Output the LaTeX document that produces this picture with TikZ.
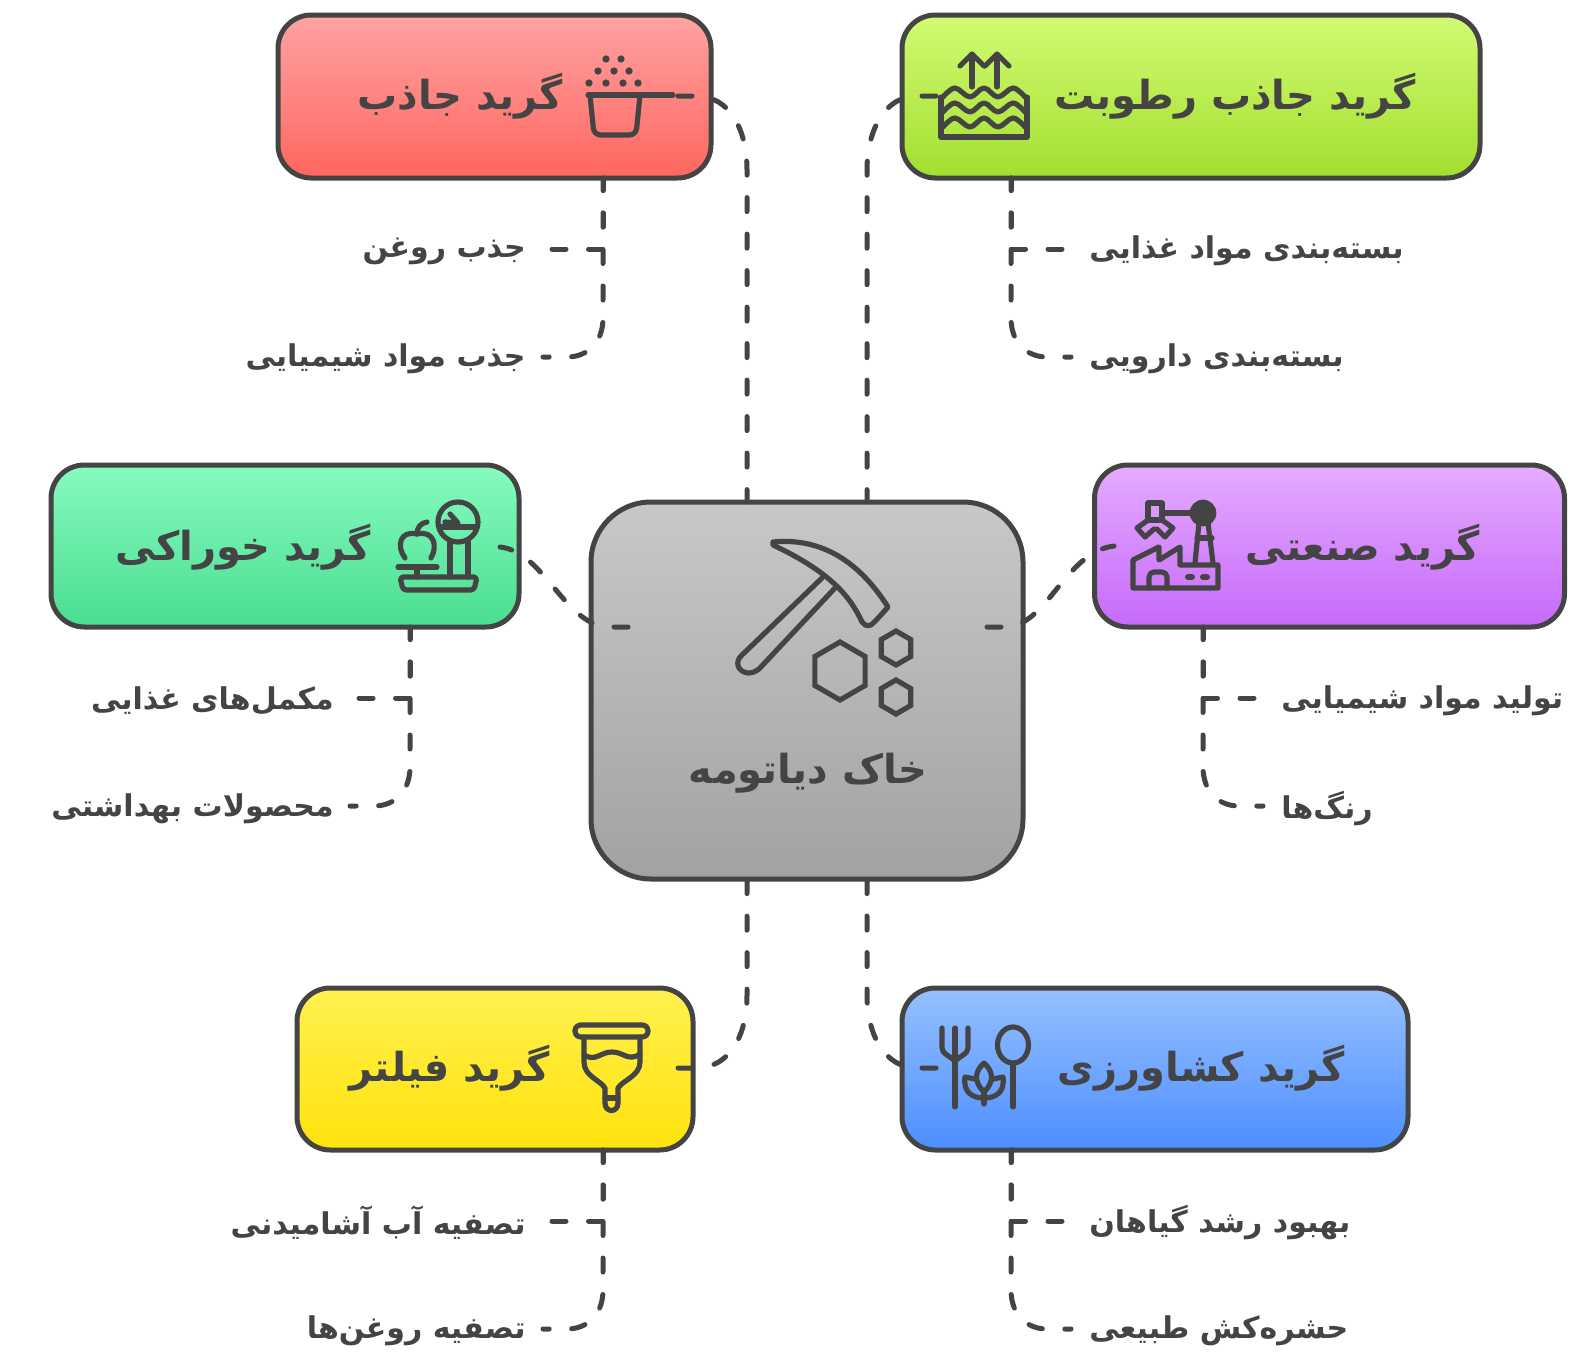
\documentclass[tikz,border=0pt]{standalone}
\usepackage{fontspec}
\usepackage{tikz}
\usetikzlibrary{shapes.geometric}
\newfontfamily\farsifont[Script=Arabic]{DejaVu Sans}
\TeXXeTstate=1
\newcommand{\fa}[1]{\farsifont\bfseries\beginR #1\endR}
\definecolor{inkc}{HTML}{444444}
\definecolor{redtop}{HTML}{FFA3A3}\definecolor{redbot}{HTML}{FF665F}
\definecolor{limetop}{HTML}{D2FB74}\definecolor{limebot}{HTML}{A3DE2E}
\definecolor{purpletop}{HTML}{E6ABFF}\definecolor{purplebot}{HTML}{C56AFA}
\definecolor{minttop}{HTML}{86FBC0}\definecolor{mintbot}{HTML}{4ADD90}
\definecolor{yellowtop}{HTML}{FFF14F}\definecolor{yellowbot}{HTML}{FFE20C}
\definecolor{bluetop}{HTML}{96C0FF}\definecolor{bluebot}{HTML}{4C8EFF}
\definecolor{greytop}{HTML}{C8C8C8}\definecolor{greybot}{HTML}{A2A2A2}
\tikzset{
  gradebox/.style={rectangle, draw=inkc, line width=3pt, rounded corners=20pt, inner sep=0pt},
  title/.style={text=inkc, font=\fontsize{24}{28}\selectfont},
  item/.style={text=inkc, font=\fontsize{18}{22}\selectfont},
  mainlink/.style={draw=inkc, line width=3pt, line cap=round, dash pattern=on 8.4pt off 13.5pt},
  branch/.style={mainlink, dash phase=.9pt},
  iconline/.style={draw=inkc, line width=3.1pt, line cap=round, line join=round},
  hexstone/.style={regular polygon, regular polygon sides=6, shape border rotate=30, draw=inkc, line width=3.1pt, inner sep=0pt},
}

\begin{document}
\begin{tikzpicture}[x=.6pt,y=-.6pt]
  \useasboundingbox (0,0) rectangle (1585,1369);
  \foreach \nm/\cx/\cy/\bw/\bh in {
    red/494.5/96.5/433/163,
    lime/1191/96.5/578/163,
    mint/285/546/468/162,
    purple/1329.5/546/470/162,
    yellow/495/1069/396/162,
    blue/1155/1069/506/162%
  } {
    \node[gradebox, top color=\nm top, bottom color=\nm bot, minimum width=\bw*.6pt, minimum height=\bh*.6pt] (\nm box) at (\cx,\cy) {};
  }
  \node[gradebox, rounded corners=36pt, top color=greytop, bottom color=greybot, minimum width=259.2pt, minimum height=226.2pt] (greybox) at (807,690.5) {};

  % titles
  \node[title] (redtitle) at (460,96) {\fa{گرید جاذب}};
  \node[title] (limetitle) at (1235,96) {\fa{گرید جاذب رطوبت}};
  \node[title] (minttitle) at (243,547) {\fa{گرید خوراکی}};
  \node[title] (purpletitle) at (1363,547) {\fa{گرید صنعتی}};
  \node[title] (yellowtitle) at (450,1068) {\fa{گرید فیلتر}};
  \node[title] (bluetitle) at (1201,1068) {\fa{گرید کشاورزی}};
  \node[title] (greytitle) at (808,773) {\fa{خاک دیاتومه}};

  % items
  \foreach \nm/\x/\y/\anc/\lab in {
    redone/526/251/east/جذب روغن,
    redtwo/526/359/east/جذب مواد شیمیایی,
    limeone/1089/251/west/بسته‌بندی مواد غذایی,
    limetwo/1089/359/west/بسته‌بندی دارویی,
    mintone/334/701/east/مکمل‌های غذایی,
    minttwo/334/809/east/محصولات بهداشتی,
    purpleone/1281/701/west/تولید مواد شیمیایی,
    purpletwo/1281/809/west/رنگ‌ها,
    yellowone/526/1223/east/تصفیه آب آشامیدنی,
    yellowtwo/526/1331/east/تصفیه روغن‌ها,
    blueone/1089/1223/west/بهبود رشد گیاهان,
    bluetwo/1089/1331/west/حشره‌کش طبیعی%
  } {
    \node[item, anchor=\anc, inner sep=0pt] (\nm) at (\x,\y) {\fa{\lab}};
  }

  % ends of the links
  \coordinate (redfoot) at (603,178);
  \coordinate (limefoot) at (1011,178);
  \coordinate (mintfoot) at (410,627);
  \coordinate (purplefoot) at (1203,627);
  \coordinate (yellowfoot) at (603,1150);
  \coordinate (bluefoot) at (1011,1150);
  \coordinate (redend) at (678,96);
  \coordinate (limeend) at (936,96);
  \coordinate (mintend) at (500,547);
  \coordinate (purpleend) at (1114,546);
  \coordinate (yellowend) at (678,1068);
  \coordinate (blueend) at (936,1068);
  \coordinate (greytl) at (747,502);
  \coordinate (greytr) at (867,502);
  \coordinate (greybl) at (747,879);
  \coordinate (greybr) at (867,879);
  \coordinate (greyl) at (628,627);
  \coordinate (greyr) at (987,627);

  \draw[mainlink] (redend) -- ++(18,0) .. controls +(34,0) and (747,130) .. (747,170) -- (greytl);
  \draw[mainlink] (limeend) -- ++(-19,0) .. controls +(-32,0) and (867,130) .. (867,170) -- (greytr);
  \draw[mainlink] (yellowend) -- ++(18,0) .. controls +(34,0) and (747,1035) .. (747,995) -- (greybl);
  \draw[mainlink] (blueend) -- ++(-19,0) .. controls +(-32,0) and (867,1035) .. (867,995) -- (greybr);
  \draw[mainlink] (greyl) -- ++(-18,0) .. controls +(-45,0) and (545,552) .. (mintend);
  \draw[mainlink] (greyr) -- ++(18,0) .. controls +(42,0) and (1065,552) .. (purpleend);

  \foreach \nm/\s in {red/-1, lime/1, mint/-1, purple/1, yellow/-1, blue/1} {
    \draw[branch] (\nm foot) -- ++(0,71) -- ++(\s*52,0);
    \draw[branch] (\nm foot) -- ++(0,140) .. controls +(0,25) and +(-20*\s,0) .. ++(\s*36,39) -- ++(\s*24,0);
  }

  % pot
  \foreach \x/\y in {606/59, 621/59, 598/71, 614/71, 629/71, 589/83, 606/83, 623/83, 638/83} {
    \fill[inkc] (\x,\y) circle (2.2pt);
  }
  \draw[iconline] (588,95) -- (673,95);
  \draw[iconline, rounded corners=4pt] (590,95) -- (594,135) -- (636,135) -- (640,95);

  % water
  \foreach \ux in {972, 997} {
    \draw[iconline] (\ux,87) -- (\ux,55);
    \draw[iconline] (\ux-12,66) -- (\ux,54) -- (\ux+12,66);
  }
  \draw[iconline] (941,97) -- (941,137) -- (1027,137) -- (1027,97);
  \foreach \dy in {0, 15, 30} {
    \draw[iconline, yshift=-\dy*.6pt] plot[smooth, tension=.6] coordinates {(943,97) (955,88) (970,97) (984,88) (998,97) (1013,88) (1025,97)};
  }

  % factory
  \fill[inkc] (1203,513) circle (8pt);
  \draw[iconline] (1163,513) -- (1193,513);
  \draw[iconline] (1148,520) -- (1148,503) -- (1162,503) -- (1162,520);
  \draw[iconline] (1148,520) -- (1137,528) -- (1145,537) -- (1154,529);
  \draw[iconline] (1162,520) -- (1173,528) -- (1165,537) -- (1157,529);
  \draw[iconline] (1148,520) -- (1162,520);
  \draw[iconline] (1195,563) -- (1199,523);
  \draw[iconline] (1213,563) -- (1208,523);
  \draw[iconline] (1197,538) -- (1212,538);
  \draw[iconline] (1133,588) -- (1133,560) -- (1159,547) -- (1159,560) -- (1180,547) -- (1180,565) -- (1218,565) -- (1218,588) -- cycle;
  \draw[iconline, rounded corners=3pt] (1149,588) -- (1149,572) -- (1167,572) -- (1167,588);
  \draw[iconline, line width=3.6pt] (1188,577) -- (1192,577);
  \draw[iconline, line width=3.6pt] (1203,577) -- (1207,577);

  % scale and apple
  \draw[iconline] (458,522) circle (12pt);
  \draw[iconline] (440,527) -- (477,527);
  \draw[iconline] (450,514) -- (458,523) -- (445,522);
  \draw[iconline] (450,542) -- (450,577);
  \draw[iconline] (468,542) -- (468,577);
  \draw[iconline, rounded corners=2pt] (400,577) -- (477,577) -- (474,590) -- (403,590) -- cycle;
  \draw[iconline] (398,567) -- (437,567);
  \draw[iconline] (417,567) -- (417,577);
  \draw[iconline] (405,558) .. controls (396,546) and (400,530) .. (417,534) .. controls (434,530) and (438,546) .. (431,558);
  \draw[iconline] (417,534) .. controls (417,527) and (421,523) .. (427,522);

  % pick and stones
  \draw[iconline] (773,542) .. controls (815,538) and (855,555) .. (888,607) .. controls (888,607) and (875,622) .. (871,625) .. controls (866,627) and (864,624) .. (862,622) .. controls (850,596) and (830,572) .. (773,545) -- cycle;
  \draw[iconline] (822,578) -- (742,655) .. controls (734,662) and (738,672) .. (748,673) .. controls (752,673) and (755,672) .. (759,669) -- (835,588);
  \node[hexstone, minimum size=34.8pt] (stonebig) at (840,671) {};
  \node[hexstone, minimum size=20.4pt] (stoneup) at (896,648) {};
  \node[hexstone, minimum size=20.4pt] (stonedown) at (896,697) {};

  % cup
  \draw[iconline, rounded corners=3.5pt] (575,1025) rectangle (648,1037);
  \draw[iconline] (584,1037) -- (584,1062) .. controls (584,1076) and (600,1080) .. (605,1088) -- (605,1103) .. controls (605,1113) and (618,1113) .. (618,1103) -- (618,1088) .. controls (623,1080) and (640,1076) .. (640,1062) -- (640,1037);
  \draw[iconline] (605,1098) -- (618,1098);
  \draw[iconline] (584,1055) .. controls (596,1062) and (600,1052) .. (612,1052) .. controls (624,1052) and (628,1062) .. (640,1054);

  % fork, plant and spoon
  \draw[iconline] (955,1028) -- (955,1107);
  \draw[iconline] (942,1028) -- (942,1048) .. controls (942,1054) and (950,1056) .. (955,1061);
  \draw[iconline] (968,1028) -- (968,1048) .. controls (968,1054) and (960,1056) .. (955,1061);
  \draw[iconline] (1013,1045) ellipse (9.3pt and 10.8pt);
  \draw[iconline] (1013,1063) -- (1013,1107);
  \draw[iconline] (984,1063) .. controls (974,1072) and (974,1082) .. (984,1092) .. controls (994,1082) and (994,1072) .. (984,1063);
  \draw[iconline] (975,1079) -- (965,1077) .. controls (963,1092) and (972,1098) .. (984,1098);
  \draw[iconline] (993,1079) -- (1003,1077) .. controls (1005,1092) and (996,1098) .. (984,1098);
  \draw[iconline] (984,1092) -- (984,1104);
\end{tikzpicture}
\end{document}
